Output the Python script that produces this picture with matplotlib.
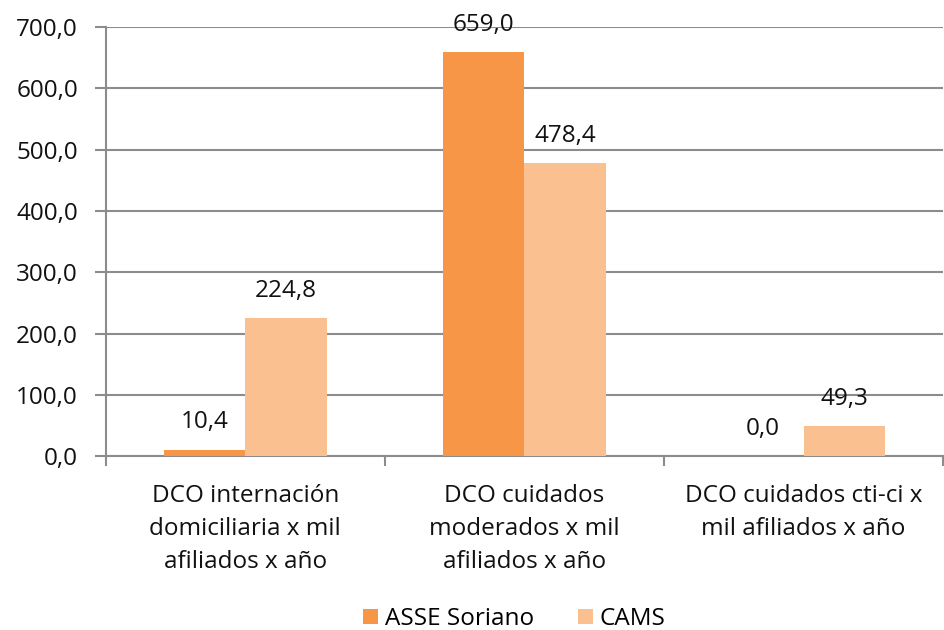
import numpy as np
import matplotlib
matplotlib.use("Agg")
import matplotlib.pyplot as plt

categories = ["DCO internación\ndomiciliaria x mil\nafiliados x año",
              "DCO cuidados\nmoderados x mil\nafiliados x año",
              "DCO cuidados cti-ci x\nmil afiliados x año"]
asse = [10.4, 659.0, 0.0]
cams = [224.8, 478.4, 49.3]
series_names = ["ASSE Soriano", "CAMS"]
yticks = [0, 100, 200, 300, 400, 500, 600, 700]

plt.rcParams['font.family'] = ['Open Sans', 'DejaVu Sans']
grey = "#8c8c8c"
txt = "#111111"
fs = 17.5

fig = plt.figure(figsize=(9.44, 6.30), dpi=100)
ax = fig.add_axes([0.112, 0.276, 0.887, 0.681])

x = np.arange(len(categories))
w = 0.292
b1 = ax.bar(x - w/2, asse, w, color="#F79646", label=series_names[0], zorder=3)
b2 = ax.bar(x + w/2, cams, w, color="#FAC090", label=series_names[1], zorder=3)

def fmt(v):
    return ("%.1f" % v).replace(".", ",")

for bars, vals in ((b1, asse), (b2, cams)):
    for r, v in zip(bars, vals):
        ax.annotate(fmt(v), (r.get_x() + r.get_width()/2, v),
                    xytext=(0, 11), textcoords="offset points",
                    ha="center", va="bottom", fontsize=fs, color=txt)

ax.set_xlim(-0.5, 2.5)
ax.set_ylim(0, 700)
ax.set_yticks(yticks)
ax.set_yticklabels([fmt(t) for t in yticks], fontsize=fs, color=txt)
ax.yaxis.grid(True, color=grey, linewidth=1.5, zorder=0)
ax.set_axisbelow(True)

ax.set_xticks(x)
ax.set_xticklabels(categories, fontsize=fs, color=txt, linespacing=1.5)
ax.tick_params(axis="x", length=0, pad=20)
ax.set_xticks([-0.5, 0.5, 1.5, 2.5], minor=True)
ax.tick_params(axis="x", which="minor", length=7, width=1.5, color=grey)
ax.tick_params(axis="y", length=8, width=1.5, color=grey, pad=12)

for s in ("top", "right"):
    ax.spines[s].set_visible(False)
for s in ("left", "bottom"):
    ax.spines[s].set_color(grey)
    ax.spines[s].set_linewidth(1.5)

fig.legend(loc="lower center", bbox_to_anchor=(0.545, -0.036), ncol=2, frameon=False,
           fontsize=fs, handlelength=0.6, handleheight=0.6, handletextpad=0.3,
           columnspacing=1.8)

fig.savefig("out.png", dpi=100)
